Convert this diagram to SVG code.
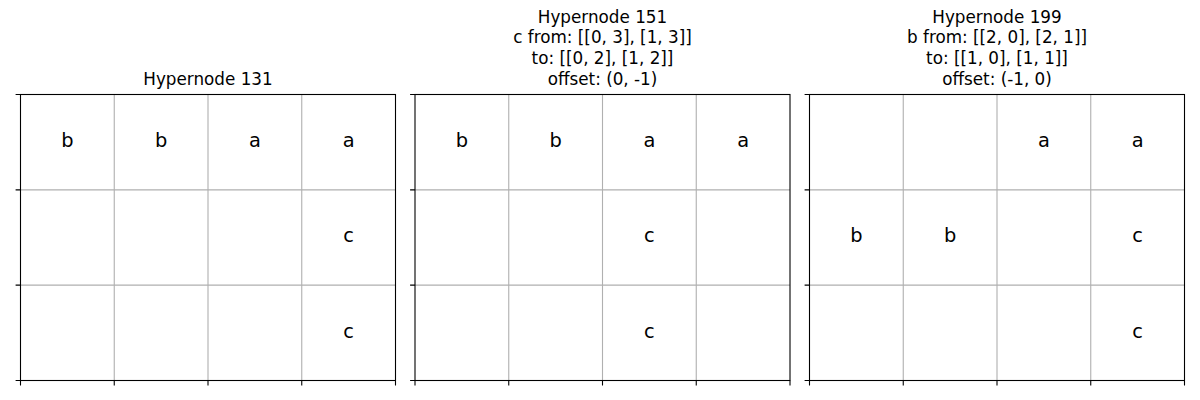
<svg xmlns="http://www.w3.org/2000/svg" width="1200" height="400" viewBox="0 0 1200 400">
<style>
.bg{fill:#ffffff}
.grid{stroke:#b0b0b0;stroke-width:1.1;fill:none}
.spine{stroke:#000000;stroke-width:1.1;fill:none}
.tick{stroke:#000000;stroke-width:1.1}
.title{font-family:"DejaVu Sans",sans-serif;font-size:16.8px;fill:#000;text-anchor:middle}
.cell{font-family:"DejaVu Sans",sans-serif;font-size:19.4px;fill:#000;text-anchor:middle}
</style>
<defs>
<g id="axes">
<rect x="0" y="0" width="375" height="286" fill="#fff"/>
<path class="grid" d="M93.75,0V286M187.5,0V286M281.25,0V286M0,95.33H375M0,190.67H375"/>
<rect class="spine" x="0" y="0" width="375" height="286"/>
<path class="tick" d="M-4.9,0H0M-4.9,95.33H0M-4.9,190.67H0M-4.9,286H0M0,286V290.9M93.75,286V290.9M187.5,286V290.9M281.25,286V290.9M375,286V290.9"/>
</g>
</defs>
<rect class="bg" x="0" y="0" width="1200" height="400"/>
<g id="panel1" transform="translate(20.5,94.5)">
<use href="#axes"/>
<text class="cell" x="46.9" y="52.6">b</text>
<text class="cell" x="140.6" y="52.6">b</text>
<text class="cell" x="234.4" y="52.6">a</text>
<text class="cell" x="328.1" y="52.6">a</text>
<text class="cell" x="328.1" y="147.9">c</text>
<text class="cell" x="328.1" y="243.2">c</text>
</g>
<text class="title" x="208" y="84.5">Hypernode 131</text>
<g id="panel2" transform="translate(415,94.5)">
<use href="#axes"/>
<text class="cell" x="46.9" y="52.6">b</text>
<text class="cell" x="140.6" y="52.6">b</text>
<text class="cell" x="234.4" y="52.6">a</text>
<text class="cell" x="328.1" y="52.6">a</text>
<text class="cell" x="234.4" y="147.9">c</text>
<text class="cell" x="234.4" y="243.2">c</text>
</g>
<g id="title2">
<text class="title" x="602.5" y="22.5">Hypernode 151</text>
<text class="title" x="602.5" y="43">c from: [[0, 3], [1, 3]]</text>
<text class="title" x="602.5" y="63.5">to: [[0, 2], [1, 2]]</text>
<text class="title" x="602.5" y="84.5">offset: (0, -1)</text>
</g>
<g id="panel3" transform="translate(809.5,94.5)">
<use href="#axes"/>
<text class="cell" x="234.4" y="52.6">a</text>
<text class="cell" x="328.1" y="52.6">a</text>
<text class="cell" x="46.9" y="147.9">b</text>
<text class="cell" x="140.6" y="147.9">b</text>
<text class="cell" x="328.1" y="147.9">c</text>
<text class="cell" x="328.1" y="243.2">c</text>
</g>
<g id="title3">
<text class="title" x="997" y="22.5">Hypernode 199</text>
<text class="title" x="997" y="43">b from: [[2, 0], [2, 1]]</text>
<text class="title" x="997" y="63.5">to: [[1, 0], [1, 1]]</text>
<text class="title" x="997" y="84.5">offset: (-1, 0)</text>
</g>
<g id="connectors"></g>
</svg>
